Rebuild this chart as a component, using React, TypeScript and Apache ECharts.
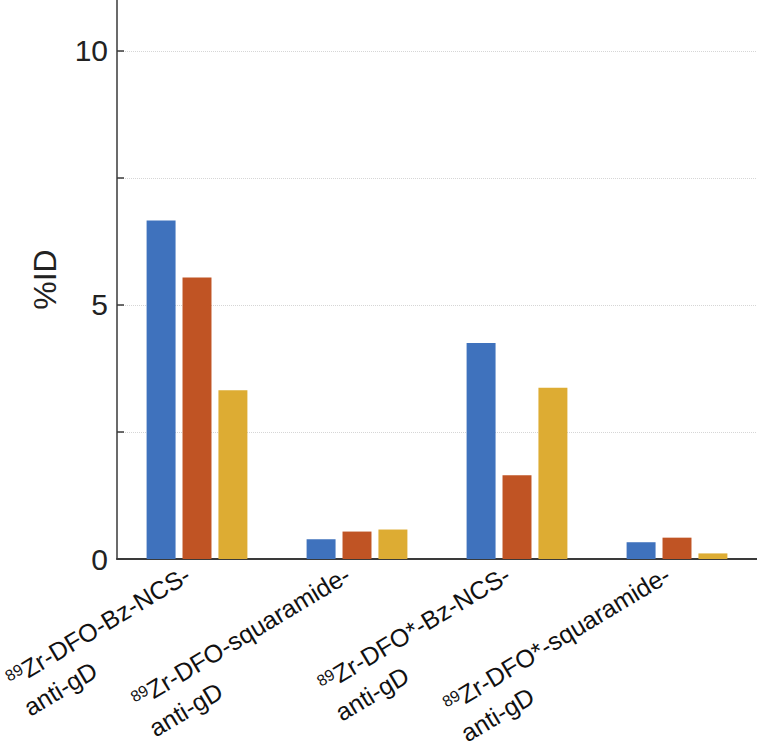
import React, { useEffect, useRef } from "react";
import * as echarts from "echarts";

const categories = [
  "89|Zr-DFO-Bz-NCS-|anti-gD",
  "89|Zr-DFO-squaramide-|anti-gD",
  "89|Zr-DFO*-Bz-NCS-|anti-gD",
  "89|Zr-DFO*-squaramide-|anti-gD",
];
const seriesBlue = [6.66, 0.39, 4.25, 0.33];
const seriesOrange = [5.54, 0.54, 1.65, 0.42];
const seriesYellow = [3.32, 0.58, 3.37, 0.11];
const yTickLabels = [0, 5, 10];

const FONT = "'Liberation Sans', Arial, Helvetica, sans-serif";

export default function App() {
  const ref = useRef<HTMLDivElement>(null);
  useEffect(() => {
    if (!ref.current) return;
    const chart = echarts.init(ref.current, undefined, { renderer: "svg" });
    const mkBar = (name: string, data: number[], color: string) => ({
      name,
      type: "bar",
      data,
      barGap: "24%",
      barCategoryGap: "37%",
      itemStyle: { color },
    });
    chart.setOption({
      animation: false,
      backgroundColor: "#ffffff",
      grid: {
        left: 117,
        right: 0,
        top: 0,
        bottom: 186,
        containLabel: false,
        outerBoundsMode: "none",
      },
      xAxis: {
        type: "category",
        data: categories,
        axisLine: { show: true, lineStyle: { color: "#3a3a3a", width: 2 } },
        axisTick: { show: false },
        axisLabel: {
          interval: 0,
          rotate: 31,
          margin: -12,
          align: "right",
          verticalAlign: "top",
          padding: [0, 21, 0, 0],
          color: "#111111",
          fontFamily: FONT,
          fontSize: 25,
          formatter: (v: string) => {
            const [sup, l1, l2] = v.split("|");
            return `{sup|${sup}}{t|${l1}}\n{t2|${l2}}`;
          },
          rich: {
            sup: { fontSize: 16, fontFamily: FONT, color: "#111111", align: "left", lineHeight: 27, padding: [0, 0, 7, 0] },
            t: { fontSize: 25, fontFamily: FONT, color: "#111111", align: "left", lineHeight: 34 },
            t2: { fontSize: 25, fontFamily: FONT, color: "#111111", align: "left", lineHeight: 34 },
          },
        },
        splitLine: { show: false },
      },
      yAxis: {
        type: "value",
        min: 0,
        max: 11,
        interval: 2.5,
        name: "%ID",
        nameLocation: "middle",
        nameRotate: 90,
        nameGap: 56,
        nameTextStyle: { fontSize: 32, fontFamily: FONT, color: "#222222" },
        axisLine: { show: true, lineStyle: { color: "#3a3a3a", width: 1.5 } },
        axisTick: { show: true, inside: true, length: 7, lineStyle: { color: "#3a3a3a", width: 1.5 } },
        axisLabel: {
          margin: 9,
          fontSize: 30,
          fontFamily: FONT,
          color: "#222222",
          showMaxLabel: false,
          formatter: (v: number) => (yTickLabels.indexOf(v) >= 0 ? String(v) : ""),
        },
        splitLine: {
          show: true,
          showMaxLine: false,
          lineStyle: { color: "#d6d6d6", type: "dotted", width: 1 },
        },
      },
      series: [
        mkBar("a", seriesBlue, "#3F72BD"),
        mkBar("b", seriesOrange, "#C05424"),
        mkBar("c", seriesYellow, "#DDAC33"),
      ],
    });
    return () => chart.dispose();
  }, []);
  return <div ref={ref} style={{ width: 757, height: 745, position: "absolute", left: 0, top: 0 }} />;
}
